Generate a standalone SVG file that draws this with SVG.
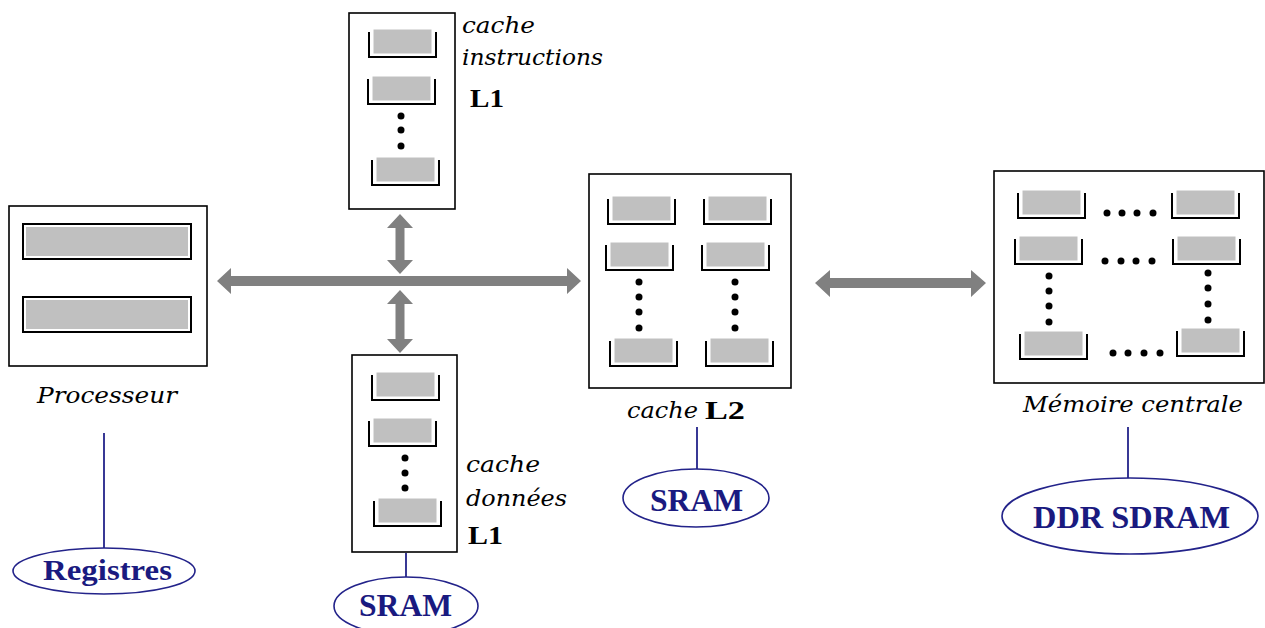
<svg xmlns="http://www.w3.org/2000/svg" xmlns:xlink="http://www.w3.org/1999/xlink" width="1265" height="628" viewBox="0 0 1265 628">
<style>
.box{fill:#fff;stroke:#000;stroke-width:1.6}
.it{font-family:"DejaVu Serif","Liberation Serif",serif;font-style:italic;font-size:22px;fill:#000}
.bd{font-family:"Liberation Serif","Times New Roman",serif;font-weight:bold;fill:#000}
.blue{font-family:"Liberation Serif","Times New Roman",serif;font-weight:bold;fill:#1a1a80}
.ell{fill:#fff;stroke:#23238a;stroke-width:1.6}
.lnk{stroke:#23238a;stroke-width:1.8;fill:none}
.arr{fill:#808080}
.dot{fill:#000}
</style>
<defs>
<g id="cup">
<rect x="4" y="0" width="59" height="25" fill="#c0c0c0" stroke="#fff" stroke-width="1"/>
<polyline points="0,3 0,28 67,28 67,3" fill="none" stroke="#000" stroke-width="2"/>
</g>
</defs>

<g id="connectors">
<polygon class="arr" points="217,281 231,268 231,276 567,276 567,268 581,281 567,294 567,286 231,286 231,294"/>
<polygon class="arr" points="400,214 413,228 404.5,228 404.5,260 413,260 400,274 387,260 395.5,260 395.5,228 387,228"/>
<polygon class="arr" points="400,290 413,304 404.5,304 404.5,339 413,339 400,353 387,339 395.5,339 395.5,304 387,304"/>
<polygon class="arr" points="815,283 830,270 830,278 971,278 971,270 986,283 971,297 971,288 830,288 830,297"/>
<line class="lnk" x1="104" y1="433" x2="104" y2="548"/>
<line class="lnk" x1="406" y1="553" x2="406" y2="577"/>
<line class="lnk" x1="697" y1="427" x2="697" y2="469"/>
<line class="lnk" x1="1128" y1="427" x2="1128" y2="478"/>
</g>

<g id="processeur">
<rect class="box" x="9" y="206" width="198" height="160"/>
<rect x="23" y="224" width="168" height="35" fill="#fff" stroke="#000" stroke-width="2"/>
<rect x="26" y="227" width="162" height="29" fill="#c0c0c0"/>
<rect x="23" y="297" width="168" height="35" fill="#fff" stroke="#000" stroke-width="2"/>
<rect x="26" y="300" width="162" height="29" fill="#c0c0c0"/>
<text class="it" x="37" y="403" textLength="140" lengthAdjust="spacingAndGlyphs">Processeur</text>
</g>

<g id="registres">
<ellipse class="ell" cx="104" cy="571" rx="91" ry="23"/>
<text class="blue" x="43" y="580" font-size="29" textLength="129" lengthAdjust="spacingAndGlyphs">Registres</text>
</g>

<g id="cache-instructions">
<rect class="box" x="349" y="13" width="106" height="196"/>
<use xlink:href="#cup" x="369" y="29"/>
<use xlink:href="#cup" x="368" y="76"/>
<circle class="dot" cx="401" cy="116" r="3.5"/>
<circle class="dot" cx="401" cy="130" r="3.5"/>
<circle class="dot" cx="401" cy="146" r="3.5"/>
<use xlink:href="#cup" x="372" y="157"/>
<text class="it" x="462" y="33" textLength="73" lengthAdjust="spacingAndGlyphs">cache</text>
<text class="it" x="462" y="65" textLength="141" lengthAdjust="spacingAndGlyphs">instructions</text>
<text class="bd" x="470" y="107" font-size="26" textLength="34" lengthAdjust="spacingAndGlyphs">L1</text>
</g>

<g id="cache-donnees">
<rect class="box" x="352" y="355" width="105" height="197"/>
<use xlink:href="#cup" x="372" y="372"/>
<use xlink:href="#cup" x="369" y="418"/>
<circle class="dot" cx="405" cy="458" r="3.5"/>
<circle class="dot" cx="405" cy="473" r="3.5"/>
<circle class="dot" cx="405" cy="488" r="3.5"/>
<use xlink:href="#cup" x="374" y="498"/>
<text class="it" x="466" y="472" textLength="74" lengthAdjust="spacingAndGlyphs">cache</text>
<text class="it" x="466" y="506" textLength="101" lengthAdjust="spacingAndGlyphs">données</text>
<text class="bd" x="468" y="544" font-size="26" textLength="35" lengthAdjust="spacingAndGlyphs">L1</text>
</g>

<g id="sram-l1">
<ellipse class="ell" cx="406" cy="606" rx="72" ry="29"/>
<text class="blue" x="359" y="616" font-size="32" textLength="93" lengthAdjust="spacingAndGlyphs">SRAM</text>
</g>

<g id="cache-l2">
<rect class="box" x="589" y="174" width="202" height="214"/>
<use xlink:href="#cup" x="608" y="196"/>
<use xlink:href="#cup" x="704" y="196"/>
<use xlink:href="#cup" x="606" y="242"/>
<use xlink:href="#cup" x="702" y="242"/>
<circle class="dot" cx="639" cy="282" r="3.5"/>
<circle class="dot" cx="639" cy="297" r="3.5"/>
<circle class="dot" cx="639" cy="312" r="3.5"/>
<circle class="dot" cx="639" cy="328" r="3.5"/>
<circle class="dot" cx="735" cy="282" r="3.5"/>
<circle class="dot" cx="735" cy="297" r="3.5"/>
<circle class="dot" cx="735" cy="312" r="3.5"/>
<circle class="dot" cx="735" cy="328" r="3.5"/>
<use xlink:href="#cup" x="610" y="338"/>
<use xlink:href="#cup" x="706" y="338"/>
<text class="it" x="627" y="418" textLength="71" lengthAdjust="spacingAndGlyphs">cache</text>
<text class="bd" x="705" y="419" font-size="25" textLength="40" lengthAdjust="spacingAndGlyphs">L2</text>
</g>

<g id="sram-l2">
<ellipse class="ell" cx="696" cy="498" rx="73" ry="29"/>
<text class="blue" x="650" y="511" font-size="32" textLength="93" lengthAdjust="spacingAndGlyphs">SRAM</text>
</g>

<g id="memoire-centrale">
<rect class="box" x="994" y="171" width="270" height="212"/>
<use xlink:href="#cup" x="1018" y="190"/>
<use xlink:href="#cup" x="1172" y="190"/>
<circle class="dot" cx="1107" cy="213" r="3.5"/>
<circle class="dot" cx="1122" cy="213" r="3.5"/>
<circle class="dot" cx="1137" cy="213" r="3.5"/>
<circle class="dot" cx="1153" cy="213" r="3.5"/>
<use xlink:href="#cup" x="1015" y="236"/>
<use xlink:href="#cup" x="1173" y="236"/>
<circle class="dot" cx="1105" cy="261" r="3.5"/>
<circle class="dot" cx="1121" cy="261" r="3.5"/>
<circle class="dot" cx="1136" cy="261" r="3.5"/>
<circle class="dot" cx="1152" cy="261" r="3.5"/>
<circle class="dot" cx="1049" cy="276" r="3.5"/>
<circle class="dot" cx="1049" cy="291" r="3.5"/>
<circle class="dot" cx="1049" cy="306" r="3.5"/>
<circle class="dot" cx="1049" cy="322" r="3.5"/>
<circle class="dot" cx="1208" cy="273" r="3.5"/>
<circle class="dot" cx="1208" cy="288" r="3.5"/>
<circle class="dot" cx="1208" cy="304" r="3.5"/>
<circle class="dot" cx="1208" cy="320" r="3.5"/>
<use xlink:href="#cup" x="1020" y="331"/>
<use xlink:href="#cup" x="1177" y="328"/>
<circle class="dot" cx="1113" cy="353" r="3.5"/>
<circle class="dot" cx="1128" cy="353" r="3.5"/>
<circle class="dot" cx="1144" cy="353" r="3.5"/>
<circle class="dot" cx="1160" cy="353" r="3.5"/>
<text class="it" x="1023" y="412" textLength="220" lengthAdjust="spacingAndGlyphs">Mémoire centrale</text>
</g>

<g id="ddr-sdram">
<ellipse class="ell" cx="1130" cy="516" rx="128" ry="38"/>
<text class="blue" x="1033" y="528" font-size="32" textLength="197" lengthAdjust="spacingAndGlyphs">DDR SDRAM</text>
</g>
</svg>
